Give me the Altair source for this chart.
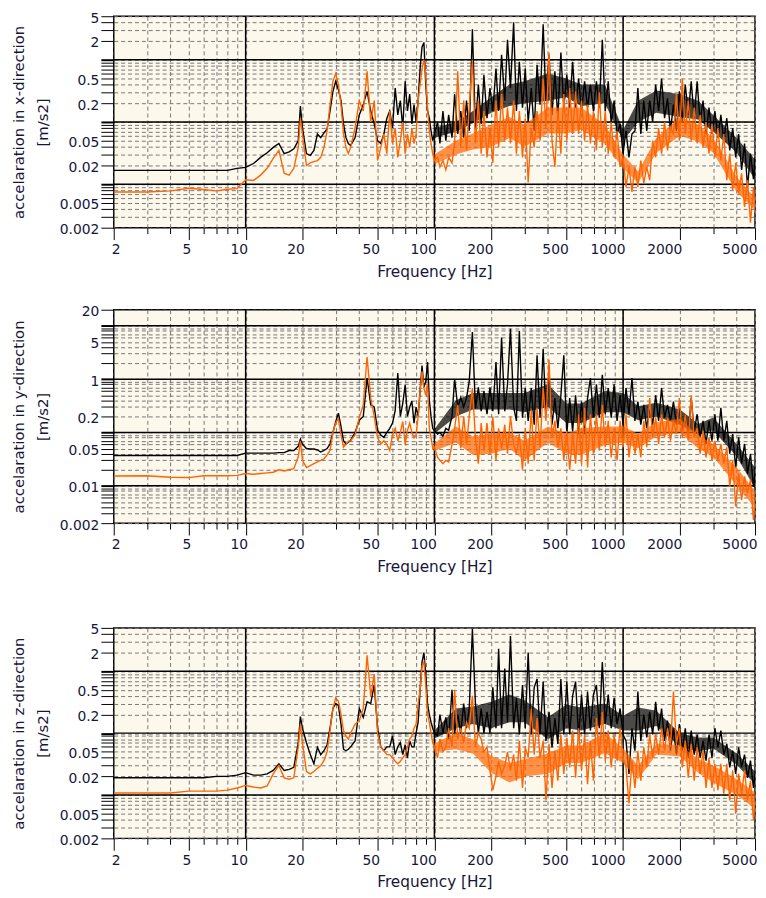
import altair as alt
import pandas as pd

# ---------------- data ----------------
freq_hz = [
    2, 3, 4, 5, 6, 7, 8, 9, 10, 11,
    12, 13, 14, 15, 16, 17, 18, 19, 19.5, 20,
    21, 22, 23, 24, 25, 26, 27, 28, 29, 30,
    31, 32, 33, 34, 35, 36, 38, 40, 42, 44,
    46, 48, 50, 52, 54, 56, 58, 60, 62, 64,
    66, 68, 70, 72, 74, 76, 78, 80, 82, 84,
    86, 88, 90, 92, 94, 96, 98, 100,
    104, 107, 111, 115, 119, 124, 128, 133, 138, 143,
    148, 153, 159, 165, 171, 177, 183, 190, 197, 204,
    212, 219, 227, 236, 244, 253, 263, 272, 282, 293,
    303, 314, 326, 338, 350, 363, 377, 390, 405, 420,
    435, 451, 468, 485, 503, 521, 540, 560, 581, 602,
    625, 648, 671, 696, 722, 748, 776, 804, 834, 865,
    896, 929, 964, 999, 1036, 1074, 1114, 1155, 1197, 1241,
    1287, 1334, 1383, 1434, 1487, 1542, 1599, 1658, 1719, 1782,
    1848, 1916, 1986, 2059, 2135, 2214, 2295, 2380, 2467, 2558,
    2652, 2750, 2851, 2956, 3065, 3178, 3295, 3416, 3542, 3672,
    3807, 3948, 4093, 4244, 4400, 4562, 4730, 4904, 5000,
]

x_black = [
    0.0167, 0.0167, 0.0167, 0.0167, 0.0167, 0.0167, 0.0167, 0.018, 0.0186, 0.0215,
    0.027, 0.032, 0.039, 0.045, 0.031, 0.033, 0.037, 0.05, 0.18, 0.08,
    0.031, 0.029, 0.035, 0.064, 0.056, 0.067, 0.077, 0.15, 0.31, 0.45,
    0.33, 0.22, 0.093, 0.056, 0.045, 0.042, 0.056, 0.13, 0.19, 0.31,
    0.15, 0.093, 0.05, 0.045, 0.064, 0.115, 0.15, 0.08, 0.35, 0.13,
    0.22, 0.08, 0.45, 0.15, 0.28, 0.093, 0.19, 0.1, 0.22, 0.72,
    1.6, 1.9, 0.4, 0.15, 0.115, 0.072, 0.05, 0.064,
    0.1, 0.045, 0.15, 0.05, 0.13, 0.056, 0.28, 0.064, 0.15, 0.056,
    0.22, 0.072, 3.1, 0.08, 0.4, 0.093, 0.57, 0.115, 0.35, 0.15,
    0.72, 0.15, 1.2, 0.22, 2.1, 0.35, 4.0, 0.15, 0.93, 0.17,
    0.72, 0.1, 0.35, 0.072, 0.83, 0.19, 3.7, 0.22, 1.2, 0.13,
    0.65, 0.115, 1.3, 0.17, 0.57, 0.17, 0.93, 0.17, 0.5, 0.15,
    0.45, 0.17, 0.40, 0.15, 0.45, 0.17, 2.1, 0.15, 0.45, 0.093,
    0.22, 0.064, 0.093, 0.031, 0.072, 0.027, 0.064, 0.072, 0.35, 0.064,
    0.22, 0.072, 0.22, 0.1, 0.40, 0.15, 0.5, 0.115, 0.24, 0.072,
    0.19, 0.072, 0.31, 0.1, 0.40, 0.13, 0.45, 0.115, 0.45, 0.1,
    0.22, 0.064, 0.17, 0.064, 0.15, 0.056, 0.13, 0.05, 0.115, 0.035,
    0.08, 0.027, 0.064, 0.017, 0.045, 0.009, 0.031, 0.012, 0.027,
]

x_orange = [
    0.0075, 0.0075, 0.0078, 0.0086, 0.0082, 0.0078, 0.0083, 0.0085, 0.0118, 0.0115,
    0.014, 0.018, 0.026, 0.035, 0.015, 0.014, 0.018, 0.039, 0.115, 0.064,
    0.02, 0.022, 0.023, 0.024, 0.027, 0.039, 0.072, 0.19, 0.45, 0.6,
    0.40, 0.19, 0.064, 0.039, 0.031, 0.039, 0.08, 0.22, 0.15, 0.65,
    0.1, 0.22, 0.024, 0.039, 0.064, 0.031, 0.15, 0.045, 0.08, 0.027,
    0.05, 0.1, 0.031, 0.064, 0.039, 0.08, 0.045, 0.064, 0.22, 0.40,
    0.72, 1.0, 0.57, 0.17, 0.072, 0.045, 0.031, 0.024,
    0.027, 0.019, 0.024, 0.017, 0.027, 0.022, 0.045, 0.65, 0.039, 0.22,
    0.035, 0.17, 1.0, 0.045, 0.22, 0.031, 0.15, 0.027, 0.08, 0.022,
    0.22, 0.039, 0.28, 0.05, 0.17, 0.045, 0.22, 0.031, 0.15, 0.027,
    0.115, 0.0107, 0.08, 0.039, 0.15, 0.05, 0.5, 0.08, 1.3, 0.05,
    0.019, 0.15, 0.031, 0.28, 0.05, 0.35, 0.064, 0.31, 0.064, 0.22,
    0.05, 0.19, 0.045, 0.15, 0.035, 0.3, 0.039, 0.15, 0.031, 0.1,
    0.027, 0.072, 0.019, 0.027, 0.009, 0.019, 0.0075, 0.019, 0.009, 0.024,
    0.0104, 0.019, 0.0116, 0.05, 0.027, 0.08, 0.031, 0.1, 0.035, 0.08,
    0.064, 0.28, 0.05, 0.5, 0.064, 0.22, 0.05, 0.17, 0.045, 0.13,
    0.039, 0.1, 0.031, 0.093, 0.027, 0.08, 0.024, 0.064, 0.0116, 0.031,
    0.008, 0.022, 0.0072, 0.015, 0.0043, 0.0116, 0.0024, 0.009, 0.0035,
]

y_black = [
    0.037, 0.037, 0.037, 0.037, 0.037, 0.037, 0.037, 0.037, 0.041, 0.041,
    0.041, 0.041, 0.041, 0.042, 0.042, 0.046, 0.046, 0.055, 0.075, 0.06,
    0.05, 0.049, 0.049, 0.047, 0.043, 0.046, 0.05, 0.061, 0.1, 0.16,
    0.23, 0.13, 0.07, 0.061, 0.066, 0.071, 0.1, 0.17, 0.2, 1.05,
    0.33, 0.3, 0.11, 0.09, 0.081, 0.1, 0.12, 0.15, 0.26, 1.3,
    0.2, 0.35, 0.78, 0.2, 0.3, 0.39, 0.15, 0.3, 0.2, 0.6,
    1.8, 0.7, 0.9, 2.1, 0.4, 0.2, 0.12, 0.107,
    0.093, 0.1, 0.085, 0.12, 0.11, 0.2, 1.0, 0.3, 0.45, 0.3,
    0.44, 0.92, 7.6, 0.28, 0.7, 0.25, 0.6, 0.22, 0.7, 0.25,
    2.1, 0.22, 6.0, 0.25, 0.8, 8.8, 0.3, 0.165, 8.0, 0.19,
    0.68, 0.165, 0.68, 0.14, 2.8, 0.19, 3.7, 0.22, 1.2, 0.14,
    0.44, 0.12, 0.5, 2.8, 0.093, 0.44, 0.105, 0.5, 0.093, 0.38,
    0.093, 0.44, 1.05, 0.19, 0.8, 0.19, 1.2, 0.22, 0.68, 0.19,
    0.8, 0.165, 0.5, 0.14, 0.68, 0.22, 1.05, 0.165, 0.38, 0.14,
    0.33, 0.12, 0.29, 0.14, 0.5, 0.165, 0.68, 0.19, 0.33, 0.165,
    0.38, 0.14, 0.29, 0.105, 0.22, 0.093, 0.44, 0.105, 0.22, 0.081,
    0.165, 0.061, 0.165, 0.07, 0.22, 0.07, 0.29, 0.07, 0.165, 0.04,
    0.093, 0.022, 0.081, 0.026, 0.061, 0.017, 0.04, 0.0096, 0.017,
]

y_orange = [
    0.0153, 0.0155, 0.0145, 0.0143, 0.0155, 0.0155, 0.0155, 0.0157, 0.017, 0.0165,
    0.017, 0.0175, 0.018, 0.02, 0.019, 0.02, 0.021, 0.035, 0.07, 0.03,
    0.022, 0.024, 0.026, 0.028, 0.03, 0.032, 0.038, 0.046, 0.1, 0.15,
    0.18, 0.09, 0.053, 0.06, 0.068, 0.07, 0.09, 0.19, 0.33, 2.6,
    0.44, 0.2, 0.08, 0.061, 0.07, 0.06, 0.046, 0.09, 0.12, 0.07,
    0.1, 0.16, 0.06, 0.11, 0.15, 0.1, 0.08, 0.09, 0.2, 0.6,
    1.4, 0.68, 0.5, 0.8, 0.12, 0.08, 0.05, 0.053,
    0.034, 0.03, 0.026, 0.03, 0.028, 0.06, 0.12, 0.33, 0.05, 0.2,
    0.06, 0.2, 0.68, 0.08, 0.026, 0.15, 0.045, 0.15, 0.04, 0.2,
    0.03, 0.12, 0.05, 0.14, 0.04, 0.2, 0.06, 0.04, 0.093, 0.02,
    0.12, 0.026, 0.26, 0.03, 0.29, 0.053, 0.68, 0.165, 2.3, 0.081,
    0.165, 0.053, 0.12, 0.03, 0.107, 0.02, 0.093, 0.026, 0.22, 0.026,
    0.29, 0.022, 0.22, 0.04, 0.22, 0.046, 0.33, 0.053, 0.165, 0.034,
    0.12, 0.03, 0.165, 0.053, 0.22, 0.034, 0.107, 0.04, 0.093, 0.034,
    0.165, 0.053, 0.44, 0.081, 0.19, 0.061, 0.22, 0.081, 0.19, 0.07,
    0.165, 0.093, 0.44, 0.081, 0.22, 0.07, 0.5, 0.081, 0.12, 0.04,
    0.107, 0.034, 0.081, 0.03, 0.07, 0.03, 0.061, 0.026, 0.053, 0.0096,
    0.03, 0.0041, 0.017, 0.0054, 0.015, 0.0072, 0.013, 0.0023, 0.0054,
]

z_black = [
    0.019, 0.019, 0.019, 0.019, 0.019, 0.02, 0.02, 0.021, 0.023, 0.021,
    0.021, 0.022, 0.025, 0.032, 0.025, 0.026, 0.028, 0.07, 0.185, 0.12,
    0.07, 0.045, 0.032, 0.059, 0.045, 0.052, 0.065, 0.12, 0.25, 0.3,
    0.28, 0.14, 0.055, 0.052, 0.055, 0.06, 0.075, 0.25, 0.18, 0.32,
    0.3, 0.6, 0.12, 0.06, 0.052, 0.06, 0.06, 0.09, 0.045, 0.06,
    0.07, 0.045, 0.065, 0.04, 0.075, 0.06, 0.06, 0.1, 0.15, 0.5,
    1.4, 2.0, 0.9, 0.3, 0.2, 0.15, 0.12, 0.1,
    0.09, 0.2, 0.1, 0.18, 0.08, 0.5, 0.1, 0.2, 0.1, 0.3,
    0.12, 0.25, 4.8, 0.3, 0.1, 0.25, 0.1, 0.22, 0.1, 0.55,
    0.12, 2.3, 0.12, 1.1, 0.15, 3.7, 0.12, 0.37, 0.095, 0.6,
    0.12, 2.0, 0.095, 0.55, 0.75, 0.095, 0.68, 0.075, 0.22, 0.059,
    0.175, 0.067, 0.75, 0.095, 0.68, 0.095, 0.4, 0.68, 0.085, 0.42,
    0.095, 0.47, 0.11, 0.42, 0.6, 0.12, 1.4, 0.14, 0.42, 0.12,
    0.37, 0.14, 0.25, 0.095, 0.075, 0.022, 0.12, 0.052, 0.47, 0.075,
    0.2, 0.085, 0.22, 0.095, 0.32, 0.11, 0.25, 0.075, 0.16, 0.052,
    0.12, 0.045, 0.14, 0.052, 0.12, 0.04, 0.11, 0.045, 0.095, 0.04,
    0.075, 0.036, 0.095, 0.04, 0.12, 0.059, 0.11, 0.045, 0.067, 0.028,
    0.052, 0.022, 0.059, 0.028, 0.045, 0.019, 0.036, 0.013, 0.022,
]

z_orange = [
    0.0108, 0.0108, 0.0108, 0.0116, 0.0116, 0.0116, 0.012, 0.013, 0.0143, 0.0135,
    0.013, 0.014, 0.022, 0.03, 0.019, 0.018, 0.019, 0.06, 0.14, 0.07,
    0.024, 0.022, 0.024, 0.027, 0.03, 0.036, 0.05, 0.11, 0.25, 0.37,
    0.33, 0.2, 0.11, 0.09, 0.08, 0.1, 0.14, 0.16, 0.25, 1.8,
    0.4, 0.9, 0.1, 0.06, 0.052, 0.045, 0.045, 0.04, 0.035, 0.032,
    0.035, 0.04, 0.045, 0.06, 0.08, 0.09, 0.12, 0.14, 0.3, 0.5,
    1.2, 1.4, 0.6, 0.2, 0.15, 0.1, 0.07, 0.06,
    0.04, 0.08, 0.05, 0.06, 0.12, 0.06, 0.5, 0.08, 0.12, 0.07,
    0.15, 0.12, 0.4, 0.06, 0.1, 0.08, 0.05, 0.06, 0.025, 0.012,
    0.02, 0.035, 0.022, 0.03, 0.05, 0.025, 0.045, 0.017, 0.075, 0.013,
    0.059, 0.04, 0.25, 0.045, 0.175, 0.04, 0.075, 0.0082, 0.067, 0.013,
    0.052, 0.017, 0.095, 0.022, 0.085, 0.028, 0.11, 0.019, 0.12, 0.025,
    0.095, 0.015, 0.075, 0.017, 0.175, 0.04, 0.22, 0.036, 0.11, 0.028,
    0.095, 0.036, 0.12, 0.04, 0.028, 0.0073, 0.036, 0.013, 0.052, 0.017,
    0.059, 0.028, 0.095, 0.04, 0.095, 0.045, 0.12, 0.052, 0.12, 0.059,
    0.47, 0.067, 0.12, 0.028, 0.075, 0.019, 0.067, 0.017, 0.059, 0.022,
    0.052, 0.013, 0.04, 0.013, 0.032, 0.012, 0.032, 0.0105, 0.032, 0.0082,
    0.025, 0.005, 0.022, 0.0105, 0.025, 0.0082, 0.017, 0.004, 0.0082,
]

# dense-noise core of each spectrum above 100 Hz (lower / upper edge of the dark mass)
band_hz = [100, 130, 160, 200, 250, 300, 400, 500, 600, 800, 1000, 1200,
           1500, 2000, 2500, 3000, 4000, 5000]
x_black_lo = [0.055, 0.07, 0.095, 0.14, 0.18, 0.2, 0.22, 0.25, 0.18, 0.2, 0.05, 0.1,
              0.14, 0.12, 0.11, 0.07, 0.032, 0.012]
x_black_hi = [0.08, 0.1, 0.15, 0.25, 0.4, 0.45, 0.6, 0.5, 0.4, 0.4, 0.075, 0.22,
              0.32, 0.28, 0.22, 0.13, 0.055, 0.025]
x_orange_lo = [0.021, 0.03, 0.036, 0.04, 0.055, 0.04, 0.065, 0.065, 0.075, 0.045, 0.018, 0.0105,
               0.032, 0.06, 0.048, 0.032, 0.0075, 0.0038]
x_orange_hi = [0.03, 0.05, 0.065, 0.09, 0.12, 0.09, 0.17, 0.17, 0.17, 0.09, 0.03, 0.016,
               0.055, 0.12, 0.09, 0.055, 0.013, 0.006]
y_black_lo = [0.095, 0.2, 0.27, 0.27, 0.27, 0.24, 0.3, 0.15, 0.15, 0.24, 0.24, 0.17,
              0.2, 0.14, 0.09, 0.11, 0.035, 0.009]
y_black_hi = [0.115, 0.4, 0.55, 0.55, 0.55, 0.55, 0.8, 0.35, 0.35, 0.6, 0.55, 0.31,
              0.36, 0.27, 0.145, 0.19, 0.06, 0.022]
y_orange_lo = [0.045, 0.065, 0.038, 0.04, 0.05, 0.03, 0.065, 0.04, 0.038, 0.058, 0.065, 0.05,
               0.085, 0.1, 0.05, 0.035, 0.01, 0.0039]
y_orange_hi = [0.062, 0.13, 0.085, 0.095, 0.1, 0.07, 0.13, 0.095, 0.12, 0.13, 0.13, 0.095,
               0.155, 0.18, 0.09, 0.06, 0.022, 0.0078]
z_black_lo = [0.082, 0.12, 0.14, 0.12, 0.15, 0.15, 0.08, 0.12, 0.11, 0.14, 0.11, 0.11,
              0.13, 0.06, 0.05, 0.057, 0.031, 0.015]
z_black_hi = [0.11, 0.25, 0.27, 0.32, 0.42, 0.34, 0.18, 0.29, 0.26, 0.3, 0.19, 0.26,
              0.23, 0.1, 0.085, 0.085, 0.047, 0.024]
z_orange_lo = [0.05, 0.055, 0.047, 0.023, 0.016, 0.02, 0.022, 0.033, 0.033, 0.048, 0.033, 0.018,
               0.045, 0.042, 0.023, 0.016, 0.01, 0.006]
z_orange_hi = [0.068, 0.1, 0.08, 0.043, 0.033, 0.038, 0.047, 0.063, 0.063, 0.1, 0.057, 0.03,
               0.067, 0.065, 0.038, 0.03, 0.018, 0.011]

x_tick_values = [2, 3, 4, 5, 6, 7, 8, 9, 10, 20, 30, 40, 50, 60, 70, 80, 90,
                 100, 200, 300, 400, 500, 600, 700, 800, 900,
                 1000, 2000, 3000, 4000, 5000]
x_label_values = [2, 5, 10, 20, 50, 100, 200, 500, 1000, 2000, 5000]
x_decades = [10, 100, 1000]

y_ticks_small = [0.002, 0.003, 0.004, 0.005, 0.006, 0.007, 0.008, 0.009,
                 0.01, 0.02, 0.03, 0.04, 0.05, 0.06, 0.07, 0.08, 0.09,
                 0.1, 0.2, 0.3, 0.4, 0.5, 0.6, 0.7, 0.8, 0.9,
                 1, 2, 3, 4, 5]
y_ticks_big = y_ticks_small + [6, 7, 8, 9, 10, 20]
y_labels_small = [0.002, 0.005, 0.02, 0.05, 0.2, 0.5, 2, 5]
y_labels_big = [0.002, 0.01, 0.05, 0.2, 1, 5, 20]
y_decades_small = [0.01, 0.1, 1]
y_decades_big = [0.01, 0.1, 1, 10]

titles = ["accelaration in x-direction", "accelaration in y-direction",
          "accelaration in z-direction"]
unit = "[m/s2]"
x_title = "Frequency [Hz]"

# ---------------- styling ----------------
FONT = "DejaVu Sans"
TXT = "#16163a"
GRID = "#777777"
ORANGE = "#ff6400"


def js_list(vals):
    return "[" + ",".join(repr(v) for v in vals) + "]"


def panel(black, orange, bands, ymax, yticks, ylabels, ydecades, title, h):
    n = len(freq_hz)
    assert len(black) == n and len(orange) == n
    df_b = pd.DataFrame({"f": freq_hz, "v": black})
    df_o = pd.DataFrame({"f": freq_hz, "v": orange})
    b_lo, b_hi, o_lo, o_hi = bands
    band_b = pd.DataFrame({"f": band_hz, "v": b_lo, "v2": b_hi})
    band_o = pd.DataFrame({"f": band_hz, "v": o_lo, "v2": o_hi})

    xl = js_list(x_label_values)
    x_enc = alt.X(
        "f:Q",
        scale=alt.Scale(type="log", domain=[2, 5000], nice=False),
        axis=alt.Axis(
            values=x_tick_values,
            title=x_title,
            grid=True, gridColor=GRID, gridDash=[4, 3], gridWidth=1,
            domain=False,
            tickColor="black",
            tickSize={"condition": {"test": f"indexof({xl}, datum.value) >= 0", "value": 12}, "value": 6},
            labelExpr=f"indexof({xl}, datum.value) >= 0 ? format(datum.value, '~g') : ''",
            labelAlign={"condition": {"test": "datum.value == 2", "value": "center"}, "value": "right"},
            labelOffset=2,
            labelPadding=3,
            labelFontSize=14,
            labelFlush=False,
            labelOverlap=False,
            titlePadding=8,
            titleFontSize=15.5,
        ),
    )
    yl = js_list(ylabels)
    yd = js_list(ydecades)
    y_enc = alt.Y(
        "v:Q",
        scale=alt.Scale(type="log", domain=[0.002, ymax], nice=False),
        axis=alt.Axis(
            values=yticks,
            title=[title, unit],
            grid=True, gridColor=GRID, gridDash=[4, 3], gridWidth=1,
            domain=False,
            tickColor="black",
            tickSize=13,
            tickWidth={"condition": {"test": f"indexof({yd}, datum.value) >= 0", "value": 2}, "value": 1},
            labelExpr=f"indexof({yl}, datum.value) >= 0 ? format(datum.value, '~g') : ''",
            labelPadding=2,
            labelOffset=2,
            labelFontSize=14,
            labelFlush=False,
            labelOverlap=False,
            titlePadding=9,
            titleLineHeight=24,
            titleFontSize=15,
        ),
    )

    vrules = alt.Chart(pd.DataFrame({"f": x_decades})).mark_rule(
        color="black", strokeWidth=1.5).encode(x=x_enc)
    hrules = alt.Chart(pd.DataFrame({"v": ydecades})).mark_rule(
        color="black", strokeWidth=1.5).encode(y=y_enc)
    ab = alt.Chart(band_b).mark_area(color="black", opacity=0.7, clip=True).encode(
        x=x_enc, y=y_enc, y2=alt.Y2("v2:Q"))
    lb = alt.Chart(df_b).mark_line(color="black", strokeWidth=1.4, clip=True).encode(x=x_enc, y=y_enc)
    ao = alt.Chart(band_o).mark_area(color=ORANGE, opacity=0.7, clip=True).encode(
        x=x_enc, y=y_enc, y2=alt.Y2("v2:Q"))
    lo = alt.Chart(df_o).mark_line(color=ORANGE, strokeWidth=1.4, clip=True).encode(x=x_enc, y=y_enc)
    return alt.layer(vrules, hrules, ab, lb, ao, lo).properties(width=649, height=h)


p1 = panel(x_black, x_orange, (x_black_lo, x_black_hi, x_orange_lo, x_orange_hi),
           5, y_ticks_small, y_labels_small, y_decades_small, titles[0], 214)
p2 = panel(y_black, y_orange, (y_black_lo, y_black_hi, y_orange_lo, y_orange_hi),
           20, y_ticks_big, y_labels_big, y_decades_big, titles[1], 216)
p3 = panel(z_black, z_orange, (z_black_lo, z_black_hi, z_orange_lo, z_orange_hi),
           5, y_ticks_small, y_labels_small, y_decades_small, titles[2], 213)

top_pair = alt.vconcat(p1, p2, spacing=23)
chart = alt.vconcat(top_pair, p3, spacing=46).properties(
    padding={"left": 3, "top": -3, "right": 0, "bottom": 0},
    background="white",
).configure_view(
    fill="#fdf8ec", stroke="black", strokeWidth=1.5
).configure_axis(
    labelFont=FONT, labelColor=TXT,
    titleFont=FONT, titleColor=TXT, titleFontWeight="normal",
)

chart.save("out.html", embed_options={"renderer": "svg", "actions": False})
